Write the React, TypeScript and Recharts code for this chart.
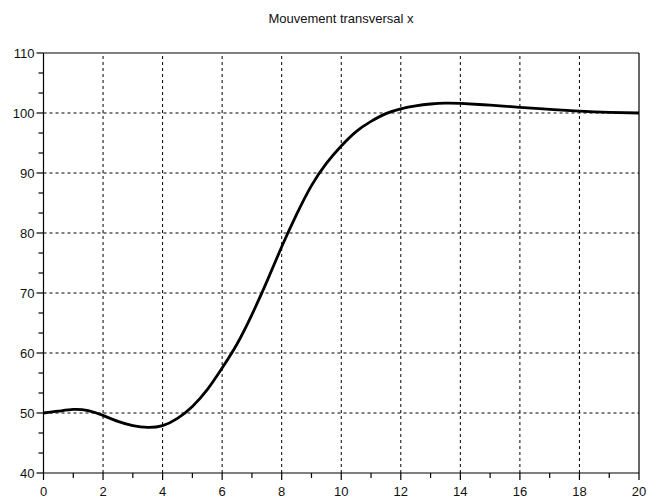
import React from "react";
import { LineChart, Line, XAxis, YAxis, ReferenceLine, Customized } from "recharts";

const TITLE = "Mouvement transversal x";

const TIME = [0, 0.5, 1, 1.5, 2, 2.5, 3, 3.5, 4, 4.5, 5, 5.5, 6, 6.5, 7, 7.5, 8, 8.5, 9, 9.5, 10, 10.5, 11, 11.5, 12, 12.5, 13, 13.5, 14, 15, 16, 17, 18, 19, 20];
const POSITION = [50.0, 50.3, 50.6, 50.4, 49.6, 48.6, 47.9, 47.6, 47.9, 49.1, 51.1, 53.9, 57.5, 61.5, 66.4, 71.9, 77.7, 83.1, 87.9, 91.6, 94.5, 96.9, 98.6, 99.9, 100.7, 101.2, 101.5, 101.65, 101.6, 101.3, 100.95, 100.6, 100.3, 100.1, 100.0];

const X_MAJOR = [0, 2, 4, 6, 8, 10, 12, 14, 16, 18, 20];
const X_MINOR = [1, 3, 5, 7, 9, 11, 13, 15, 17, 19];
const Y_MAJOR = [40, 50, 60, 70, 80, 90, 100, 110];

const data = TIME.map((t, i) => ({ t, x: POSITION[i] }));

const xTicks = [...X_MAJOR, ...X_MINOR].sort((a, b) => a - b);
const yTicks: number[] = [];
Y_MAJOR.forEach((v, i) => {
  yTicks.push(v);
  if (i < Y_MAJOR.length - 1) {
    yTicks.push(v + 10 / 3, v + 20 / 3);
  }
});

const FONT = "'Liberation Sans', Arial, Helvetica, sans-serif";
const FS = 13;

const isMajorY = (v: number) => Y_MAJOR.some((m) => Math.abs(m - v) < 1e-6);
const isMajorX = (v: number) => X_MAJOR.some((m) => Math.abs(m - v) < 1e-6);

const YTick = (props: any) => {
  const { x, y, payload } = props;
  const v = payload.value;
  const major = isMajorY(v);
  return (
    <g>
      <line x1={x - (major ? 7 : 5)} x2={x} y1={y} y2={y} stroke="#000" strokeWidth={1.2} />
      {major && (
        <text x={x - 9} y={y} textAnchor="end" dominantBaseline="central" fontSize={FS} fontFamily={FONT} fill="#111">
          {v}
        </text>
      )}
    </g>
  );
};

const XTick = (props: any) => {
  const { x, y, payload } = props;
  const v = payload.value;
  const major = isMajorX(v);
  return (
    <g>
      <line x1={x} x2={x} y1={y} y2={y + (major ? 7 : 5)} stroke="#000" strokeWidth={1.2} />
      {major && (
        <text x={x} y={y + 23} textAnchor="middle" fontSize={FS} fontFamily={FONT} fill="#111">
          {v}
        </text>
      )}
    </g>
  );
};

const Title = () => (
  <text x={341} y={23} textAnchor="middle" fontSize={FS} fontFamily={FONT} fill="#111">
    {TITLE}
  </text>
);

export default function App() {
  return (
    <div style={{ position: "absolute", left: 0, top: 0, width: 664, height: 502, background: "#fff" }}>
      <LineChart width={664} height={502} data={data} margin={{ top: 53, right: 25, bottom: 0, left: 0 }}>
        {X_MAJOR.filter((v) => v !== 0 && v !== 20).map((v) => (
          <ReferenceLine key={"gx" + v} x={v} stroke="#000" strokeDasharray="3 3" strokeWidth={1} />
        ))}
        {Y_MAJOR.filter((v) => v !== 40 && v !== 110).map((v) => (
          <ReferenceLine key={"gy" + v} y={v} stroke="#000" strokeDasharray="3 3" strokeWidth={1} />
        ))}
        <ReferenceLine y={110} stroke="#000" strokeWidth={1.2} />
        <ReferenceLine x={20} stroke="#000" strokeWidth={1.2} />
        <XAxis
          dataKey="t"
          type="number"
          domain={[0, 20]}
          ticks={xTicks}
          interval={0}
          height={29}
          tickSize={0}
          tickMargin={0}
          tickLine={false}
          axisLine={{ stroke: "#000", strokeWidth: 1.2 }}
          tick={<XTick />}
          allowDataOverflow
        />
        <YAxis
          type="number"
          domain={[40, 110]}
          ticks={yTicks}
          interval={0}
          width={43.5}
          tickSize={0}
          tickMargin={0}
          tickLine={false}
          axisLine={{ stroke: "#000", strokeWidth: 1.2 }}
          tick={<YTick />}
          allowDataOverflow
        />
        <Line
          dataKey="x"
          type="natural"
          stroke="#000"
          strokeWidth={2.8}
          dot={false}
          isAnimationActive={false}
        />
        <Customized component={Title} />
      </LineChart>
    </div>
  );
}
